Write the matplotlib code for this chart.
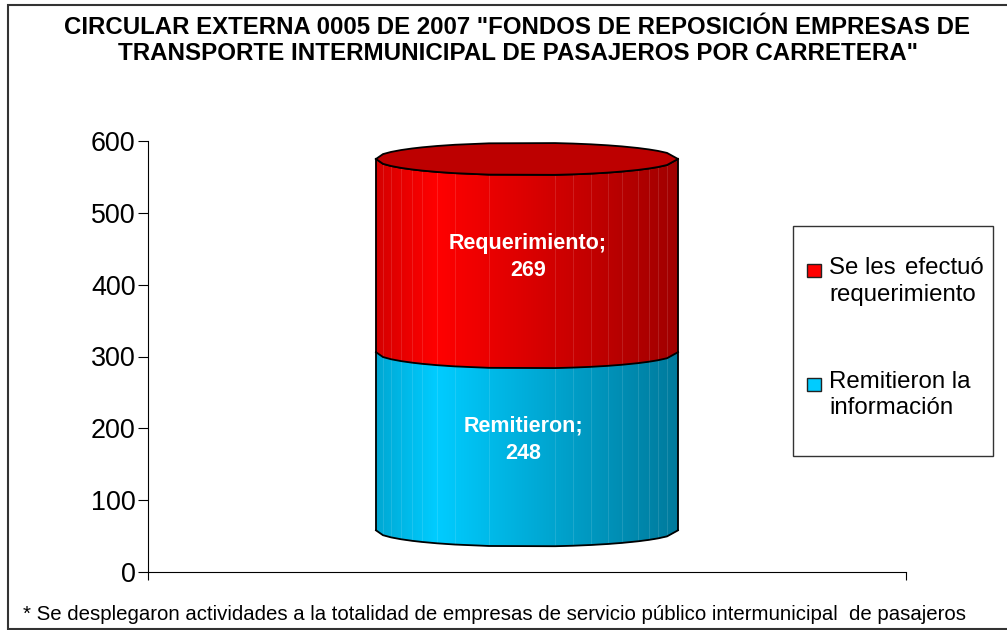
import matplotlib
matplotlib.use('Agg')
import matplotlib.pyplot as plt
import numpy as np
from matplotlib.patches import Rectangle, Polygon

plt.rcParams['font.family'] = ['Liberation Sans', 'DejaVu Sans']

W, H = 1007, 630
titulo = ['CIRCULAR EXTERNA 0005 DE 2007 "FONDOS DE REPOSICIÓN EMPRESAS DE',
          'TRANSPORTE INTERMUNICIPAL DE PASAJEROS POR CARRETERA"']
nota = '* Se desplegaron actividades a la totalidad de empresas de servicio público intermunicipal  de pasajeros'
valores = [248, 269]
ticks = [0, 100, 200, 300, 400, 500, 600]
claros = ['#00ccff', '#ff0000']
oscuros = ['#007a9c', '#a00000']
tapa = '#bd0000'

fig = plt.figure(figsize=(W / 100, H / 100), dpi=100)

# marco exterior, en pixeles
bg = fig.add_axes([0, 0, 1, 1])
bg.set_xlim(0, W)
bg.set_ylim(H, 0)
bg.axis('off')
bg.add_patch(Rectangle((8, 5), W + 10, 623.5, fc='white', ec='#333333', lw=1.5))
bg.text(517, 27, titulo[0], ha='center', va='center', fontsize=17.3, fontweight='bold')
bg.text(518, 54, titulo[1], ha='center', va='center', fontsize=17.4, fontweight='bold')
bg.text(23, 614, nota, ha='left', va='center', fontsize=14.7)

# leyenda
bg.add_patch(Rectangle((793, 226), 200, 230, fc='white', ec='#333333', lw=1))
bg.add_patch(Rectangle((807, 264), 14, 13, fc=claros[1], ec='#222222', lw=1))
bg.add_patch(Rectangle((807, 378), 14, 13, fc=claros[0], ec='#222222', lw=1))
bg.text(829, 268, 'Se les', ha='left', va='center', fontsize=17.3)
bg.text(984, 268, 'efectuó', ha='right', va='center', fontsize=17.3)
bg.text(829, 295, 'requerimiento', ha='left', va='center', fontsize=17.3)
bg.text(829, 382, 'Remitieron la', ha='left', va='center', fontsize=17.3)
bg.text(829, 408, 'información', ha='left', va='center', fontsize=17.3)

# ejes
ax = fig.add_axes([148 / W, 1 - 572 / H, (906 - 148) / W, (572 - 141) / H])
ax.set_xlim(0, 1)
ax.set_ylim(0, 600)
ax.patch.set_alpha(0)
ax.spines['top'].set_visible(False)
ax.spines['right'].set_visible(False)
ax.set_yticks(ticks)
ax.tick_params(axis='y', labelsize=19.4, length=7, direction='out', pad=2)
ax.set_xticks([0, 1])
ax.set_xticklabels([])
ax.tick_params(axis='x', length=6, direction='out')

caras_px = np.array([376, 383, 391, 401, 412, 422, 437, 455, 489, 555, 573, 591, 608, 622, 638, 649, 658, 667, 678])
cx_px = 527
rx_px = 151
ancho = 906 - 148
xs = (caras_px - 148) / ancho
ry = 22.5
base = 58
ondas = ry * np.sqrt(np.clip(1 - ((caras_px - cx_px) / rx_px) ** 2, 0, 1))
xf = np.linspace(xs[0], xs[-1], 303)
of = np.interp(xf, xs, ondas)


def mezcla(c1, c2, t):
    a = np.array(matplotlib.colors.to_rgb(c1))
    b = np.array(matplotlib.colors.to_rgb(c2))
    return a + (b - a) * t


y0 = base
for i, v in enumerate(valores):
    y1 = y0 + v
    for k in range(len(xf) - 1):
        pos = k / (len(xf) - 2)
        if pos < 0.2:
            col = mezcla(oscuros[i], claros[i], 0.55 + 0.45 * pos / 0.2)
        else:
            col = mezcla(claros[i], oscuros[i], (pos - 0.2) / 0.8)
        ax.add_patch(Polygon([(xf[k], y0 - of[k]), (xf[k + 1], y0 - of[k + 1]),
                              (xf[k + 1], y1 - of[k + 1]), (xf[k], y1 - of[k])],
                             fc=col, ec=col, lw=0.4, zorder=2 + i))
    # lineas claras entre caras
    for x, o in zip(xs[1:-1], ondas[1:-1]):
        ax.plot([x, x], [y0 - o, y1 - o], color='white', alpha=0.14, lw=0.6, zorder=4)
    ax.plot(xs, y1 - ondas, color='black', lw=1.3, zorder=5)
    ax.plot([xs[0], xs[0]], [y0, y1], color='black', lw=1.3, zorder=5)
    ax.plot([xs[-1], xs[-1]], [y0, y1], color='black', lw=1.3, zorder=5)
    y0 = y1
ax.plot(xs, base - ondas, color='black', lw=1.3, zorder=5)
tx = np.concatenate([xs, xs[::-1]])
ty = np.concatenate([y0 - ondas, y0 + ondas[::-1]])
ax.add_patch(Polygon(np.column_stack([tx, ty]), fc=tapa, ec='black', lw=1.3, zorder=6))

# etiquetas
ax.text((523 - 148) / ancho, base + 248 / 2 + 2, 'Remitieron;\n248', ha='center', va='center', color='white',
        fontsize=15.5, fontweight='bold', linespacing=1.42, zorder=7)
ax.text((528 - 148) / ancho, base + 248 + 269 / 2 - 2, 'Requerimiento;\n269', ha='center', va='center', color='white',
        fontsize=15.5, fontweight='bold', linespacing=1.42, zorder=7)

fig.savefig('out.png', dpi=100)
